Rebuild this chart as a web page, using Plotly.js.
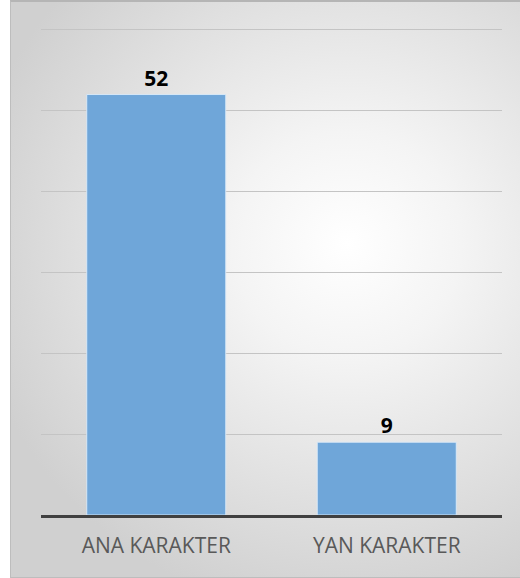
<!DOCTYPE html>
<html>
<head>
<meta charset="utf-8">
<script src="https://cdn.plot.ly/plotly-3.0.1.min.js"></script>
<style>
  html, body { margin: 0; padding: 0; background: #ffffff; }
  #wrap { position: relative; width: 520px; height: 578px; overflow: hidden; }
  #bg { position: absolute; left: 10px; top: 0px; width: 509px; height: 575px;
        border: 1px solid #bdbdbd; border-top: 2px solid #b5b5b5;
        background: radial-gradient(ellipse 75% 65% at 66% 42%, #ffffff 0%, #f4f4f4 30%, #e2e2e2 65%, #d0d0d0 100%); }
  #chart { position: absolute; left: 0; top: 0; width: 520px; height: 578px; }
</style>
</head>
<body>
<div id="wrap">
  <div id="bg"></div>
  <div id="chart"></div>
</div>
<script>
const categories = ["ANA KARAKTER", "YAN KARAKTER"];
const values = [52, 9];
const yTicks = [0, 10, 20, 30, 40, 50, 60];

Plotly.newPlot("chart", [{
  type: "bar",
  x: categories,
  y: values,
  marker: { color: "#6fa6d9", line: { color: "rgba(220,235,250,0.9)", width: 1 } },
  text: values.map(String),
  textposition: "outside",
  cliponaxis: false,
  textfont: { family: "Open Sans, sans-serif", size: 21, color: "#000000", weight: "bold" },
  hoverinfo: "none"
}], {
  width: 520,
  height: 578,
  margin: { l: 41, r: 18, t: 25, b: 63 },
  paper_bgcolor: "rgba(0,0,0,0)",
  plot_bgcolor: "rgba(0,0,0,0)",
  bargap: 0.397,
  showlegend: false,
  xaxis: {
    showline: true, linecolor: "#404040", linewidth: 3,
    showgrid: false, ticks: "",
    tickfont: { family: "Open Sans, sans-serif", size: 21, color: "#595959" },
    ticklabelstandoff: 10
  },
  yaxis: {
    range: [0, 60.6], tickvals: yTicks, showticklabels: false,
    showgrid: true, gridcolor: "#c4c4c4", gridwidth: 1,
    zeroline: false, showline: false, ticks: ""
  }
}, { displayModeBar: false, staticPlot: true });
</script>
</body>
</html>
